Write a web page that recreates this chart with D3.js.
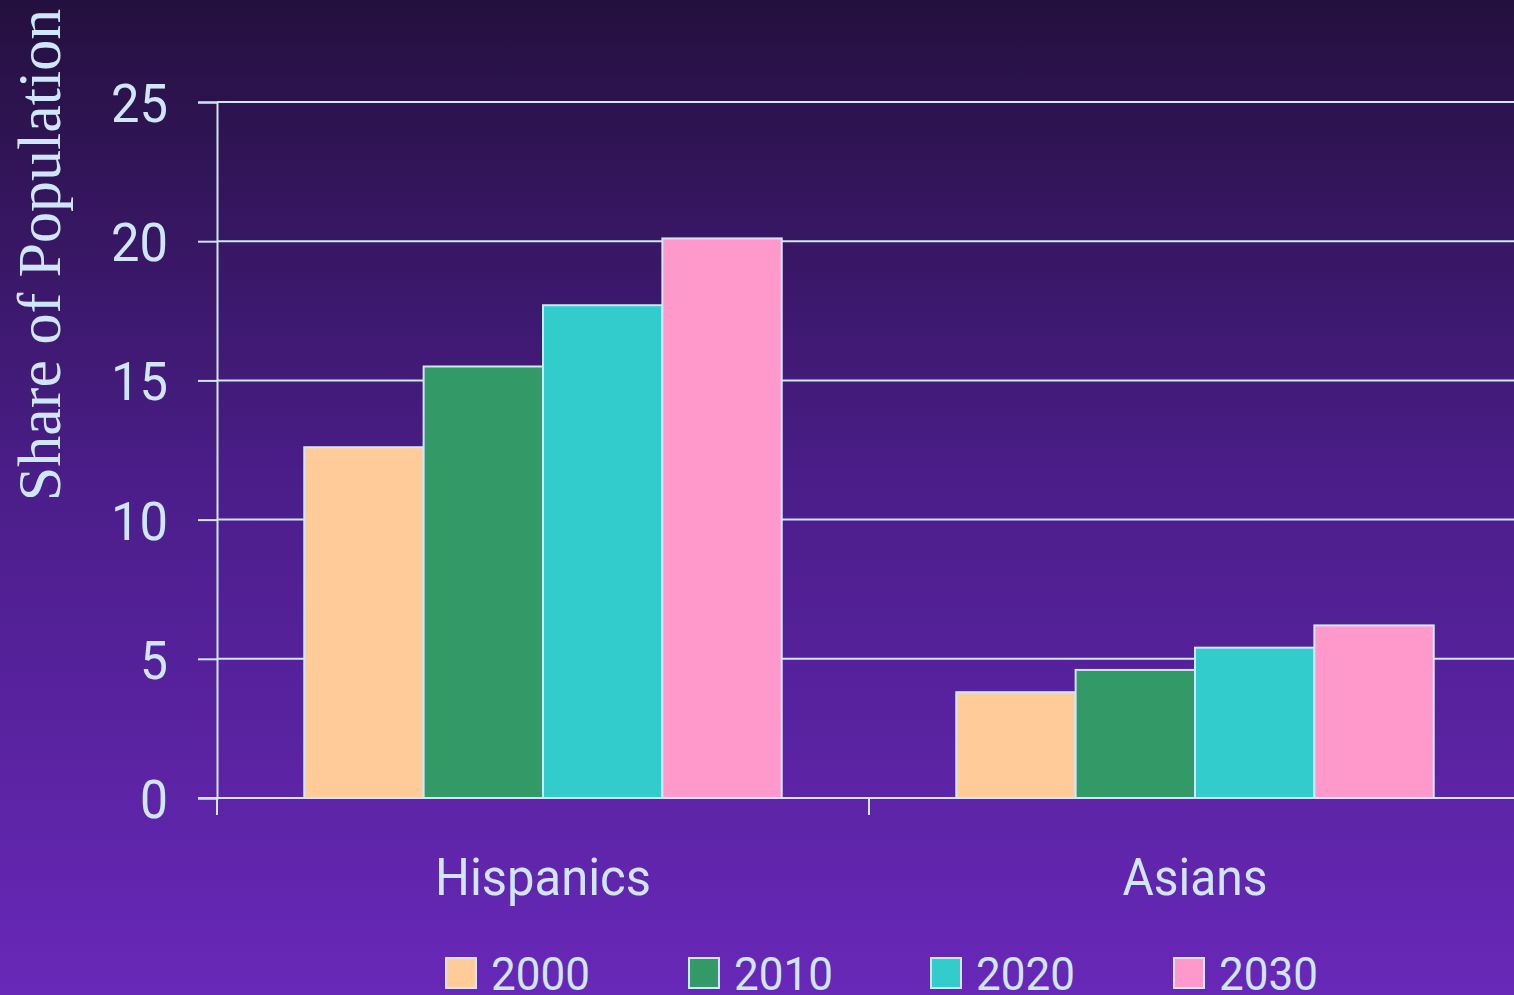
<!DOCTYPE html>
<html><head><meta charset="utf-8">
<script src="https://cdn.jsdelivr.net/npm/d3@7"></script>
<style>html,body{margin:0;padding:0;overflow:hidden;background:#4a1d88}</style>
</head><body>
<svg id="chart" width="1514" height="995"></svg>
<script>
const categories = ["Hispanics", "Asians"];
const years = ["2000", "2010", "2020", "2030"];
const values2000 = [12.6, 3.8];
const values2010 = [15.5, 4.6];
const values2020 = [17.7, 5.4];
const values2030 = [20.1, 6.2];
const yTicks = [0, 5, 10, 15, 20, 25];
const colors = ["#ffcc99", "#339966", "#33cccc", "#ff99cc"];

const series = [values2000, values2010, values2020, values2030];
const W = 1514, H = 995;
const fg = "#cfe6ff";
const svg = d3.select("#chart");

const defs = svg.append("defs");
const grad = defs.append("linearGradient").attr("id","bg").attr("x1",0).attr("y1",0).attr("x2",0).attr("y2",1);
grad.append("stop").attr("offset","0%").attr("stop-color","#24103e");
grad.append("stop").attr("offset","50%").attr("stop-color","#4c1e8b");
grad.append("stop").attr("offset","100%").attr("stop-color","#6828b8");
svg.append("rect").attr("width",W).attr("height",H).attr("fill","url(#bg)");

const x0 = 217, x1 = 1521, yTop = 102, yBot = 798;
const x = d3.scaleBand().domain(categories).range([x0, x1]).paddingInner(0).paddingOuter(0);
const xs = d3.scaleBand().domain(years).range([0, x.bandwidth()]).paddingInner(0).paddingOuter(0.731);
const y = d3.scaleLinear().domain([0, 25]).range([yBot, yTop]);

// gridlines
svg.append("g").selectAll("line").data(yTicks).join("line")
  .attr("x1", x0).attr("x2", W).attr("y1", d=>y(d)).attr("y2", d=>y(d))
  .attr("stroke", fg).attr("stroke-width", 2);

// y axis
const yAxis = svg.append("g").attr("transform",`translate(${x0},0)`)
  .call(d3.axisLeft(y).tickValues(yTicks).tickSize(19).tickPadding(30));
yAxis.select(".domain").attr("stroke", fg).attr("stroke-width", 2);
yAxis.selectAll(".tick line").attr("stroke", fg).attr("stroke-width", 2);
yAxis.selectAll(".tick text").attr("fill", fg).attr("font-family","Roboto, sans-serif")
  .attr("font-size", 54).attr("dy","0.36em").attr("textLength", d => d >= 10 ? 57 : 28)
  .attr("lengthAdjust","spacingAndGlyphs");

// x axis ticks (category boundaries)
const xAxis = svg.append("g").attr("transform",`translate(0,${yBot})`)
  .call(d3.axisBottom(x).tickSize(0).tickFormat(""));
xAxis.select(".domain").remove();
xAxis.selectAll(".tick").remove();
svg.append("g").selectAll("line").data(categories.concat(["_end"])).join("line")
  .attr("x1", d => d === "_end" ? x1 : x(d)).attr("x2", d => d === "_end" ? x1 : x(d))
  .attr("y1", yBot).attr("y2", yBot + 17).attr("stroke", fg).attr("stroke-width", 2);

// bars
const g = svg.append("g");
years.forEach((yr, i) => {
  g.append("g").selectAll("rect").data(categories).join("rect")
    .attr("x", c => x(c) + xs(yr))
    .attr("width", xs.bandwidth())
    .attr("y", (c, j) => y(series[i][j]))
    .attr("height", (c, j) => y(0) - y(series[i][j]))
    .attr("fill", colors[i]).attr("stroke", fg).attr("stroke-width", 2);
});

// baseline over bars
svg.append("line").attr("x1", 198).attr("x2", W).attr("y1", yBot).attr("y2", yBot)
  .attr("stroke", fg).attr("stroke-width", 2);

// category labels
const catW = {"Hispanics": 216, "Asians": 145};
svg.append("g").selectAll("text").data(categories).join("text")
  .attr("x", d => x(d) + x.bandwidth()/2).attr("y", 895)
  .attr("text-anchor","middle").attr("fill", fg)
  .attr("font-family","Roboto, sans-serif").attr("font-size", 52)
  .attr("textLength", d => catW[d]).attr("lengthAdjust","spacingAndGlyphs")
  .text(d => d);

// y label
svg.append("text").attr("transform","translate(60,255) rotate(-90)")
  .attr("text-anchor","middle").attr("fill", fg)
  .attr("font-family","'Liberation Serif', serif").attr("font-size", 62)
  .text("Share of Population");

// legend
const legX = [446, 689, 931, 1174];
const leg = svg.append("g");
years.forEach((yr, i) => {
  leg.append("rect").attr("x", legX[i]).attr("y", 958).attr("width", 30).attr("height", 30)
    .attr("fill", colors[i]).attr("stroke", fg).attr("stroke-width", 2);
  leg.append("text").attr("x", legX[i] + 45).attr("y", 990).attr("fill", fg)
    .attr("font-family","Roboto, sans-serif").attr("font-size", 46)
    .attr("textLength", 99).attr("lengthAdjust","spacingAndGlyphs").text(yr);
});
</script>
</body></html>
